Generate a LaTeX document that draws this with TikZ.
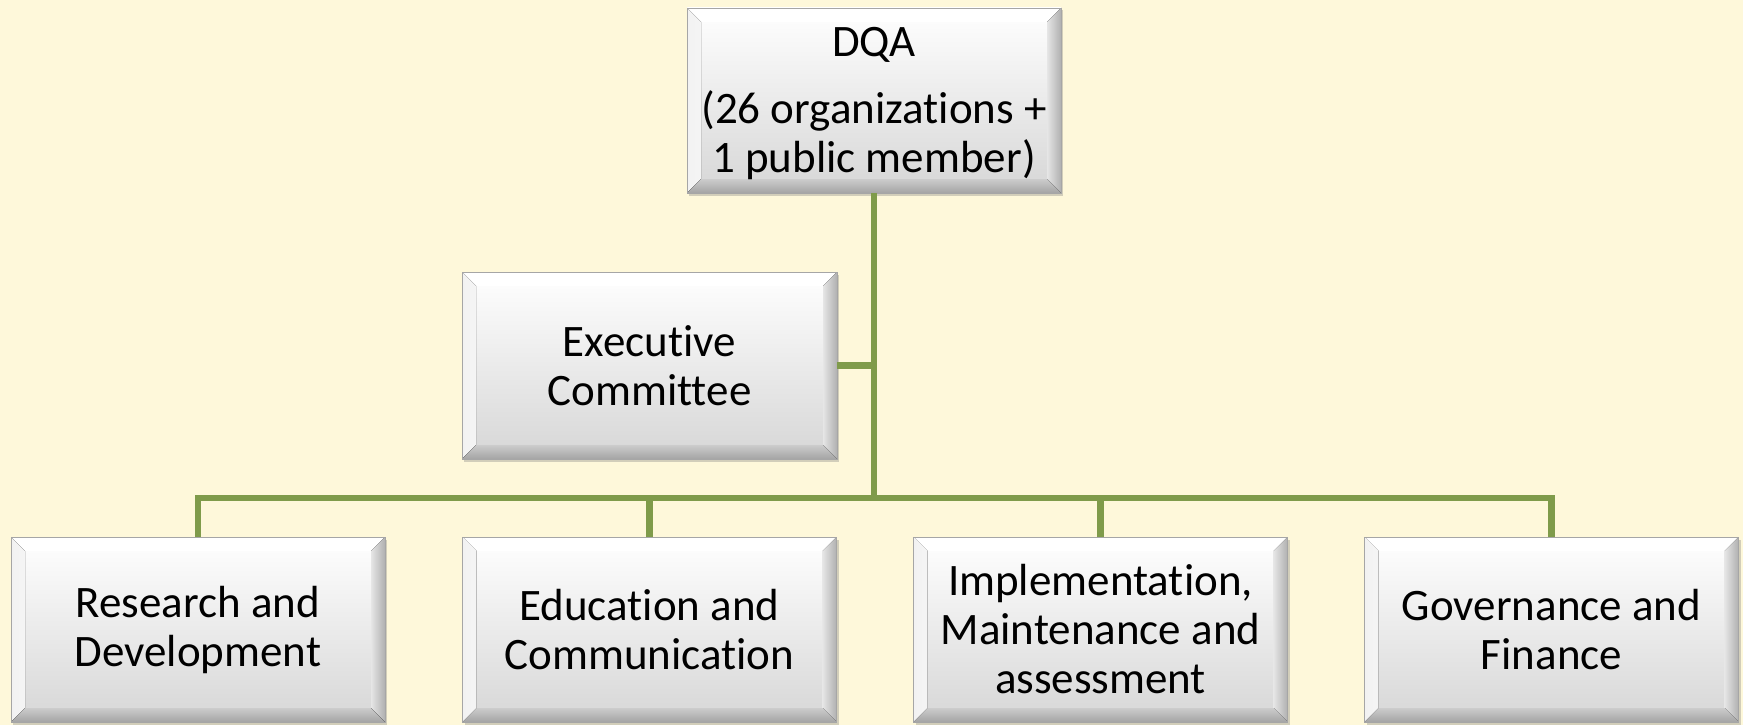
\documentclass[tikz,border=0pt]{standalone}
\usepackage{fontspec}
\setmainfont{Carlito}[Ligatures=NoCommon]
\usetikzlibrary{calc,shadows}
\definecolor{bgcol}{HTML}{FEF8DA}
\definecolor{conncol}{HTML}{7F9B4A}
\definecolor{bevR}{HTML}{B0B0B0}
\definecolor{bevB}{HTML}{A4A4A4}
\definecolor{bevL}{HTML}{F2F2F2}
\tikzset{
  x=1pt,y=-1pt,
  bevelbox/.style={
    rectangle, minimum width=374pt, minimum height=185pt, inner sep=0pt,
    draw=gray!70, line width=0.6pt,
    top color=white, bottom color=black!16,
    drop shadow={opacity=0.35, shadow xshift=2pt, shadow yshift=-2.5pt},
    font=\fontsize{45}{49}\selectfont, align=center,
    path picture={
      \coordinate (nw) at (path picture bounding box.north west);
      \coordinate (ne) at (path picture bounding box.north east);
      \coordinate (sw) at (path picture bounding box.south west);
      \coordinate (se) at (path picture bounding box.south east);
      \fill[white] (nw) -- (ne) -- ($(ne)+(-14pt,-14pt)$) -- ($(nw)+(14pt,-14pt)$) -- cycle;
      \fill[left color=bevL, right color=white!96!black] (nw) -- ($(nw)+(14pt,-14pt)$) -- ($(sw)+(14pt,14pt)$) -- (sw) -- cycle;
      \fill[left color=white!90!black, right color=bevR] (ne) -- (se) -- ($(se)+(-14pt,14pt)$) -- ($(ne)+(-14pt,-14pt)$) -- cycle;
      \fill[top color=black!20, bottom color=bevB] (sw) -- ($(sw)+(14pt,14pt)$) -- ($(se)+(-14pt,14pt)$) -- (se) -- cycle;
    }
  },
  conn/.style={draw=conncol, line width=6.5pt}
}
\begin{document}
\begin{tikzpicture}
\fill[bgcol] (0,0) rectangle (1743,725);
\useasboundingbox (0,0) rectangle (1743,725);
\node[bevelbox] (dqa) at (874,100.5) {\strut DQA\\[18pt](26 organizations +\\1 public member)};
\node[bevelbox, minimum width=375pt, minimum height=187pt] (ex) at (649.5,365.5) {Executive\\Committee};
\node[bevelbox] (rd) at (198,629.5) {Research and\\Development};
\node[bevelbox] (ec) at (649.5,629.5) {Education and\\Communication};
\node[bevelbox] (im) at (1100.5,629.5) {Implementation,\\Maintenance and\\assessment};
\node[bevelbox] (gf) at (1551.5,629.5) {Governance and\\Finance};
\coordinate (j) at (874,498);
\draw[conn] (dqa.south) -- (j);
\draw[conn] (ex.east) -- (ex.east -| j);
\draw[conn] (rd.north) |- (j) -| (gf.north);
\draw[conn] (ec.north) -- (ec.north |- j);
\draw[conn] (im.north) -- (im.north |- j);
\end{tikzpicture}
\end{document}
